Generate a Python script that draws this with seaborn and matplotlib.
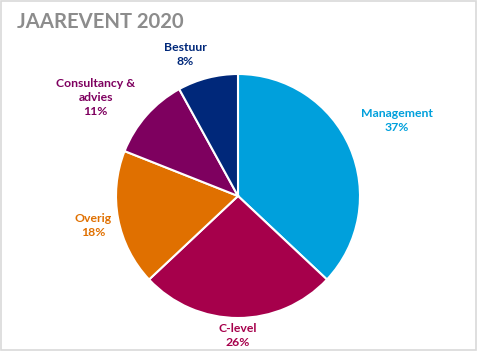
import matplotlib
matplotlib.use("Agg")
import matplotlib.pyplot as plt
import numpy as np
import seaborn as sns
from matplotlib.patches import Rectangle

# Data
categories = ["Management", "C-level", "Overig", "Consultancy &\nadvies", "Bestuur"]
shares = [37, 26, 18, 11, 8]
colors = ["#00A0DC", "#A6004B", "#E07000", "#7E005F", "#00287A"]
# label offsets (radius units) and angle nudges per slice
label_dist = [1.44, 1.14, 1.21, 1.42, 1.24]
label_nudge = [2, 0, 0.6, 6.7, 6]

sns.set_theme(style="white")
plt.rcParams["font.family"] = ["Lato", "DejaVu Sans"]

fig = plt.figure(figsize=(4.79, 3.54), dpi=100)
fig.patch.set_facecolor("white")

R = 122
cx, cy = 238, 354 - 196
ax = fig.add_axes([(cx - R) / 479, (cy - R) / 354, 2 * R / 479, 2 * R / 354])
wedges, _ = ax.pie(shares, colors=colors, startangle=90, counterclock=False,
                   radius=1, wedgeprops=dict(edgecolor="white", linewidth=1.5))
ax.set_xlim(-1, 1)
ax.set_ylim(-1, 1)
ax.set_aspect("equal")
ax.axis("off")

for w, cat, val, col, d, nudge in zip(wedges, categories, shares, colors, label_dist, label_nudge):
    ang = np.deg2rad((w.theta1 + w.theta2) / 2 + nudge)
    ax.text(d * np.cos(ang), d * np.sin(ang), f"{cat}\n{val}%", color=col,
            ha="center", va="center", fontsize=8.8, fontweight="bold",
            linespacing=1.35, clip_on=False)

fig.text(17 / 479, 1 - 22 / 354, "JAAREVENT 2020", color="#8C8C8C",
         fontsize=14.6, fontweight="bold", ha="left", va="center")

fig.patches.append(Rectangle((0.5 / 479, 4 / 354), 475.5 / 479, 349 / 354,
                             transform=fig.transFigure, fill=False,
                             edgecolor="#D9D9D9", linewidth=1.2))

fig.savefig("out.png", dpi=100)
